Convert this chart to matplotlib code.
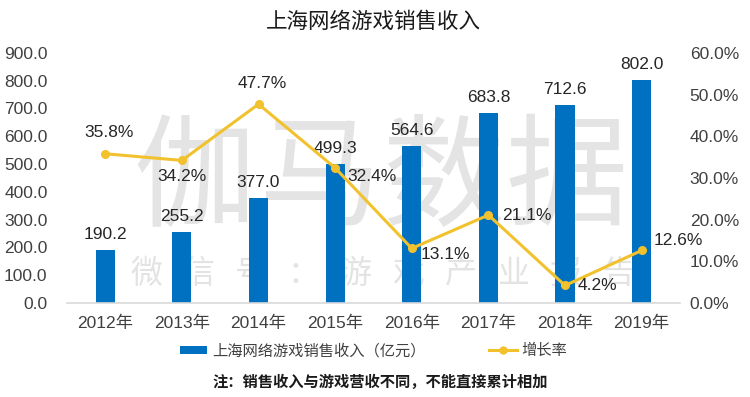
import matplotlib
matplotlib.use("Agg")
import matplotlib.pyplot as plt
from matplotlib.patches import Patch
from matplotlib.lines import Line2D

plt.rcParams['font.family'] = ['Liberation Sans', 'Noto Sans CJK SC', 'DejaVu Sans']

# ---- data ----
years = ["2012年", "2013年", "2014年", "2015年", "2016年", "2017年", "2018年", "2019年"]
revenue = [190.2, 255.2, 377.0, 499.3, 564.6, 683.8, 712.6, 802.0]
growth = [35.8, 34.2, 47.7, 32.4, 13.1, 21.1, 4.2, 12.6]
left_ticks = [0, 100, 200, 300, 400, 500, 600, 700, 800, 900]
right_ticks = [0, 10, 20, 30, 40, 50, 60]
title = "上海网络游戏销售收入"
bar_name = "上海网络游戏销售收入（亿元）"
line_name = "增长率"
note = "注：销售收入与游戏营收不同，不能直接累计相加"

# label placement for growth labels (offset in points, horizontal alignment)
growth_label_pos = [((3, 15), 'center'), ((0, -11.5), 'center'), ((3, 15), 'center'),
                    ((9, -6.5), 'left'), ((6.5, -4.3), 'left'), ((10, 0), 'left'),
                    ((9.4, 0), 'left'), ((8.6, 7.2), 'left')]

bar_color = '#0070C0'
line_color = '#F2C12E'
text_color = '#262626'
tick_color = '#404040'

fig = plt.figure(figsize=(7.5, 3.97), dpi=100)
ax = fig.add_axes([0.0893, 0.2368, 0.8173, 0.630])
ax2 = ax.twinx()

x = list(range(len(years)))
bars = ax.bar(x, revenue, width=0.25, color=bar_color, zorder=2)
for xi, v in zip(x, revenue):
    ax.annotate(f"{v:.1f}", (xi, v), xytext=(0, 11), textcoords='offset points',
                ha='center', va='center', fontsize=12.5, color=text_color)

ax.set_xlim(-0.5, len(years) - 0.5)
ax.set_ylim(0, 900)
ax.set_yticks(left_ticks)
ax.set_yticklabels([f"{t:.1f}" for t in left_ticks])
ax.set_xticks(x)
ax.set_xticklabels(years)
ax.tick_params(axis='y', length=0, pad=14, labelsize=12.5, labelcolor=tick_color)
ax.tick_params(axis='x', length=0, pad=9, labelsize=12.5, labelcolor=tick_color)
for s in ['top', 'left', 'right']:
    ax.spines[s].set_visible(False)
ax.spines['bottom'].set_color('#D9D9D9')
ax.spines['bottom'].set_linewidth(1.2)

ax2.plot(x, growth, color=line_color, linewidth=2.2, marker='o', markersize=5.5, zorder=3)
for xi, g, (off, ha) in zip(x, growth, growth_label_pos):
    ax2.annotate(f"{g:.1f}%", (xi, g), xytext=off, textcoords='offset points',
                 ha=ha, va='center', fontsize=12.5, color=text_color)
ax2.set_ylim(0, 60)
ax2.set_yticks(right_ticks)
ax2.set_yticklabels([f"{t:.1f}%" for t in right_ticks])
ax2.tick_params(axis='y', length=0, pad=7, labelsize=12.5, labelcolor=tick_color)
for s in ['top', 'left', 'right', 'bottom']:
    ax2.spines[s].set_visible(False)

# watermark
big = "伽马数据"
for i, ch in enumerate(big):
    ax.text((195 + i * 124) / 750, 1 - 182 / 397, ch, transform=fig.transFigure,
            fontsize=88, color='#E4E4E4', ha='center', va='center', zorder=0.5,
            family=['Noto Sans CJK SC'])
small = "微信号：游戏产业报告"
for i, ch in enumerate(small):
    ax.text((146 + i * 52.5) / 750, 1 - 274 / 397, ch, transform=fig.transFigure,
            fontsize=23, color='#E3E3E3', ha='center', va='center', zorder=0.5,
            family=['Noto Sans CJK SC'])

fig.text(0.498, 1 - 22 / 397, title, ha='center', va='center', fontsize=15.5, color='#1a1a1a')

handles = [Patch(facecolor=bar_color, edgecolor='none'),
           Line2D([0], [0], color=line_color, linewidth=2.2, marker='o', markersize=5)]
fig.legend(handles, [bar_name, line_name], loc='center', bbox_to_anchor=(0.498, 1 - 351 / 397),
           ncol=2, frameon=False, fontsize=11, handlelength=1.8, handleheight=0.5,
           handletextpad=0.3, columnspacing=4.2, labelcolor=tick_color)

fig.text(0.507, 1 - 382 / 397, note, ha='center', va='center', fontsize=11,
         fontweight='bold', color='#1a1a1a')

fig.savefig("out.png", dpi=100)
